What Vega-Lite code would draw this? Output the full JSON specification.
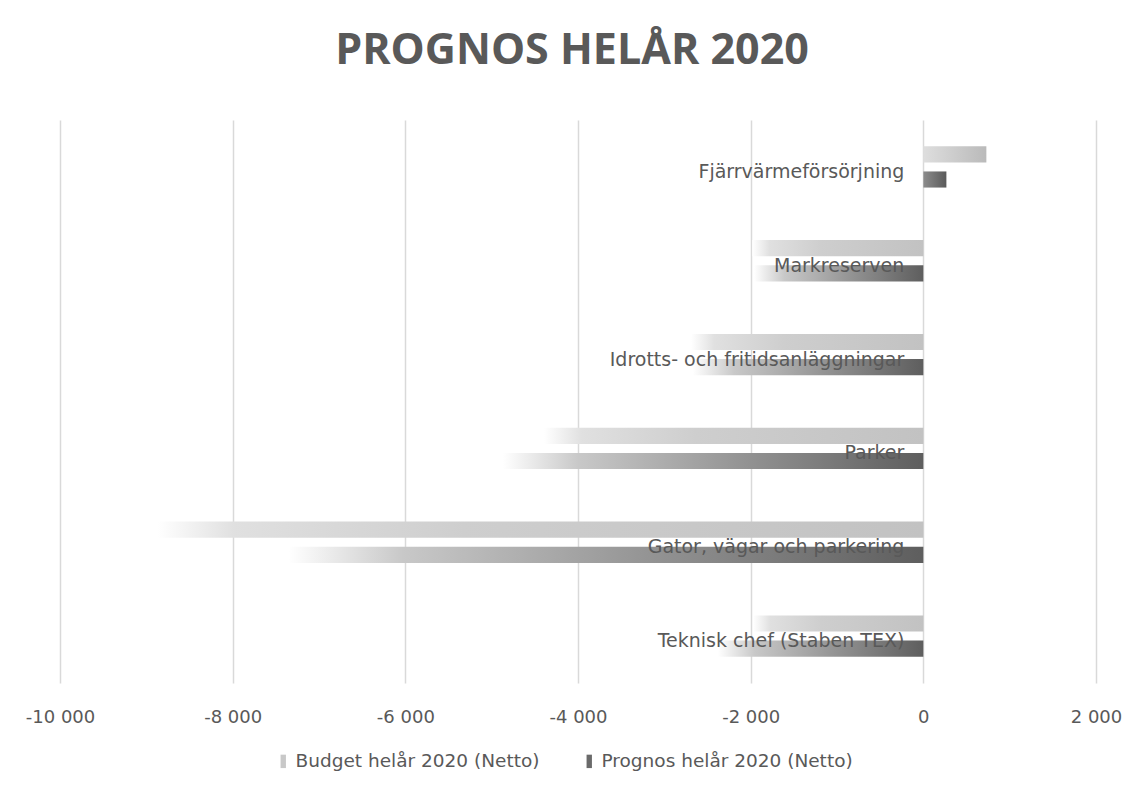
{
  "$schema": "https://vega.github.io/schema/vega-lite/v6.json",
  "width": 1036,
  "height": 563,
  "autosize": {"type": "none"},
  "padding": {"left": 60, "top": 120, "right": 29, "bottom": 102},
  "background": "white",
  "config": {"view": {"stroke": null}, "font": "DejaVu Sans"},
  "title": {
    "text": "PROGNOS HELÅR 2020",
    "font": "Open Sans",
    "fontSize": 43,
    "fontWeight": "bold",
    "color": "#595959",
    "anchor": "middle",
    "offset": 47,
    "dx": -6
  },
  "data": {
    "values": [
      {"category": "Fjärrvärmeförsörjning", "series": "Budget helår 2020 (Netto)", "value": 730},
      {"category": "Fjärrvärmeförsörjning", "series": "Prognos helår 2020 (Netto)", "value": 267},
      {"category": "Markreserven", "series": "Budget helår 2020 (Netto)", "value": -1980},
      {"category": "Markreserven", "series": "Prognos helår 2020 (Netto)", "value": -1960},
      {"category": "Idrotts- och fritidsanläggningar", "series": "Budget helår 2020 (Netto)", "value": -2690},
      {"category": "Idrotts- och fritidsanläggningar", "series": "Prognos helår 2020 (Netto)", "value": -2670},
      {"category": "Parker", "series": "Budget helår 2020 (Netto)", "value": -4394},
      {"category": "Parker", "series": "Prognos helår 2020 (Netto)", "value": -4870},
      {"category": "Gator, vägar och parkering", "series": "Budget helår 2020 (Netto)", "value": -8870},
      {"category": "Gator, vägar och parkering", "series": "Prognos helår 2020 (Netto)", "value": -7350},
      {"category": "Teknisk chef (Staben TEX)", "series": "Budget helår 2020 (Netto)", "value": -1970},
      {"category": "Teknisk chef (Staben TEX)", "series": "Prognos helår 2020 (Netto)", "value": -2380}
    ]
  },
  "layer": [
    {
      "mark": {"type": "bar", "opacity": 0},
      "encoding": {
        "y": {"field": "category", "type": "nominal", "sort": null, "scale": {"paddingInner": 0.56, "paddingOuter": 0.28}, "axis": null},
        "yOffset": {"field": "series", "type": "nominal", "sort": null, "scale": {"paddingInner": 0.36, "paddingOuter": 0}},
        "x": {
          "field": "value", "type": "quantitative",
          "scale": {"domain": [-10000, 2000], "nice": false, "zero": false},
          "axis": {
            "title": null, "values": [-10000, -8000, -6000, -4000, -2000, 0, 2000],
            "labelExpr": "replace(replace(format(datum.value, ','), ',', ' '), '−', '-')",
            "grid": true, "gridColor": "#d9d9d9", "gridWidth": 1.5,
            "domain": false, "ticks": false, "labelFlush": false,
            "labelFontSize": 18, "labelColor": "#595959", "labelPadding": 25, "labelFont": "DejaVu Sans"
          }
        },
        "color": {
          "field": "series", "type": "nominal", "sort": null,
          "scale": {"range": ["#c8c8c8", "#6a6a6a"]},
          "legend": {
            "title": null, "orient": "none", "direction": "horizontal",
            "legendX": 214, "legendY": 632,
            "symbolType": "M-0.4,-1H0.4V1H-0.4Z", "symbolSize": 180, "symbolOpacity": 1, "symbolStrokeWidth": 0,
            "labelFontSize": 18.5, "labelColor": "#595959", "labelFont": "DejaVu Sans", "labelLimit": 0,
            "columnPadding": 40, "labelOffset": 3
          }
        }
      }
    },
    {
      "transform": [{"filter": "datum.series == 'Budget helår 2020 (Netto)' && datum.value < 0"}],
      "mark": {"type": "bar", "color": {"gradient": "linear", "x1": 0, "x2": 1, "y1": 0, "y2": 0,
        "stops": [{"offset": 0, "color": "#ffffff"}, {"offset": 0.1, "color": "#e0e0e0"}, {"offset": 0.4, "color": "#cecece"}, {"offset": 1, "color": "#c2c2c2"}]}},
      "encoding": {
        "y": {"field": "category", "type": "nominal", "sort": null, "scale": {"paddingInner": 0.56, "paddingOuter": 0.28}, "axis": null},
        "yOffset": {"field": "series", "type": "nominal", "sort": null, "scale": {"paddingInner": 0.36, "paddingOuter": 0}},
        "x": {"field": "value", "type": "quantitative"}
      }
    },
    {
      "transform": [{"filter": "datum.series == 'Budget helår 2020 (Netto)' && datum.value >= 0"}],
      "mark": {"type": "bar", "color": {"gradient": "linear", "x1": 0, "x2": 1, "y1": 0, "y2": 0,
        "stops": [{"offset": 0, "color": "#dedede"}, {"offset": 1, "color": "#bababa"}]}},
      "encoding": {
        "y": {"field": "category", "type": "nominal", "sort": null, "scale": {"paddingInner": 0.56, "paddingOuter": 0.28}, "axis": null},
        "yOffset": {"field": "series", "type": "nominal", "sort": null, "scale": {"paddingInner": 0.36, "paddingOuter": 0}},
        "x": {"field": "value", "type": "quantitative"}
      }
    },
    {
      "transform": [{"filter": "datum.series == 'Prognos helår 2020 (Netto)' && datum.value < 0"}],
      "mark": {"type": "bar", "color": {"gradient": "linear", "x1": 0, "x2": 1, "y1": 0, "y2": 0,
        "stops": [{"offset": 0, "color": "#ffffff"}, {"offset": 0.18, "color": "#c8c8c8"}, {"offset": 0.55, "color": "#969696"}, {"offset": 1, "color": "#5e5e5e"}]}},
      "encoding": {
        "y": {"field": "category", "type": "nominal", "sort": null, "scale": {"paddingInner": 0.56, "paddingOuter": 0.28}, "axis": null},
        "yOffset": {"field": "series", "type": "nominal", "sort": null, "scale": {"paddingInner": 0.36, "paddingOuter": 0}},
        "x": {"field": "value", "type": "quantitative"}
      }
    },
    {
      "transform": [{"filter": "datum.series == 'Prognos helår 2020 (Netto)' && datum.value >= 0"}],
      "mark": {"type": "bar", "color": {"gradient": "linear", "x1": 0, "x2": 1, "y1": 0, "y2": 0,
        "stops": [{"offset": 0, "color": "#8c8c8c"}, {"offset": 1, "color": "#5a5a5a"}]}},
      "encoding": {
        "y": {"field": "category", "type": "nominal", "sort": null, "scale": {"paddingInner": 0.56, "paddingOuter": 0.28}, "axis": null},
        "yOffset": {"field": "series", "type": "nominal", "sort": null, "scale": {"paddingInner": 0.36, "paddingOuter": 0}},
        "x": {"field": "value", "type": "quantitative"}
      }
    },
    {
      "transform": [{"filter": "datum.series == 'Budget helår 2020 (Netto)'"}],
      "mark": {"type": "text", "align": "right", "baseline": "middle", "dx": -19, "dy": 5, "fontSize": 19, "color": "#595959", "font": "DejaVu Sans"},
      "encoding": {
        "y": {"field": "category", "type": "nominal", "sort": null, "scale": {"paddingInner": 0.56, "paddingOuter": 0.28}, "axis": null},
        "x": {"datum": 0},
        "text": {"field": "category"}
      }
    }
  ]
}
